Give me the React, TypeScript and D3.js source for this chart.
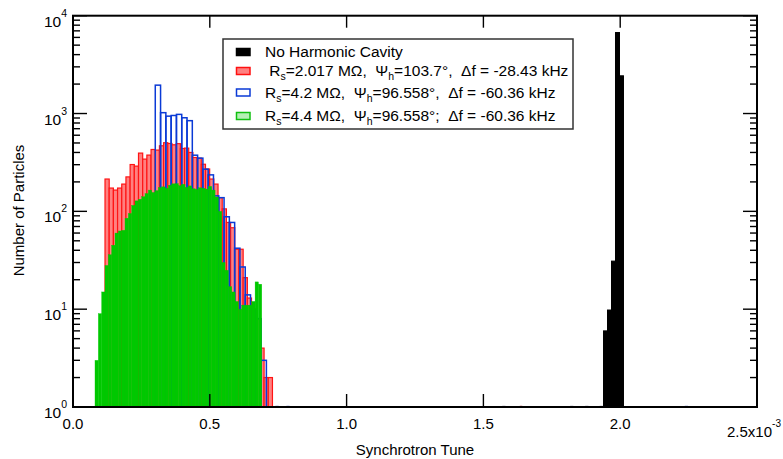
import React from 'react';
import * as d3 from 'd3';

const W = 783;
const H = 459;

// Histogram series (bin start, bin width in units of 1e-3, counts per bin)
const blackStart = 1.939;
const blackWidth = 0.0146;
const blackCounts = [6, 9.8, 31, 6730, 2430];

const redStart = 0.117;
const redWidth = 0.0153;
const redCounts = [
  214, 173, 165, 173, 190, 225, 301, 290, 394, 342,
  376, 429, 423, 468, 503, 494, 479, 492, 439, 443,
  400, 355, 350, 303, 271, 214, 190, 138, 106, 77,
  68, 41, 41, 21, 13, 10, 8, 4, 2, 2,
];

const blueStart = 0.3007;
const blueWidth = 0.01934;
const blueCounts = [
  1950, 1020, 940, 955, 980, 905, 845, 375, 350, 270,
  236, 144, 138, 88, 77, 42, 27, 14, 10, 8, 3,
];

const greenStart = 0.0804;
const greenWidth = 0.01219;
const greenCounts = [
  3, 9, 15, 28, 36, 45, 60, 63, 64, 85,
  95, 115, 128, 133, 141, 152, 165, 156, 163, 175,
  178, 172, 185, 191, 192, 183, 189, 176, 182, 170,
  168, 174, 172, 169, 180, 165, 140, 100, 30, 25,
  17, 15, 12, 10, 11, 11, 11, 12, 19, 18,
];

// single-particle bins (count = 1) far from the main distributions
const blueStrays = [0.74, 0.78, 2.236];
const redStrays = [1.633];
const greyStrays = [1.569, 1.817, 1.872, 1.925];

const xTicks = [0, 0.5, 1.0, 1.5, 2.0, 2.5];
const xTickLabels = ['0.0', '0.5', '1.0', '1.5', '2.0'];
const yDecades = [0, 1, 2, 3, 4];

const legendRows = [
  [{ t: 'No Harmonic Cavity' }],
  [{ t: ' R' }, { sub: 's' }, { t: '=2.017 MΩ,  Ψ' }, { sub: 'h' }, { t: '=103.7°,  Δf = -28.43 kHz' }],
  [{ t: 'R' }, { sub: 's' }, { t: '=4.2 MΩ,  Ψ' }, { sub: 'h' }, { t: '=96.558°,  Δf = -60.36 kHz' }],
  [{ t: 'R' }, { sub: 's' }, { t: '=4.4 MΩ,  Ψ' }, { sub: 'h' }, { t: '=96.558°;  Δf = -60.36 kHz' }],
];

const FONT = '"Liberation Sans", Arial, Helvetica, sans-serif';

export default function App() {
  const x = d3.scaleLinear().domain([0, 2.5]).range([73, 757]);
  const y = d3.scaleLog().domain([1, 1e4]).range([407, 15.7]);
  const [xl, xr] = x.range();
  const [yb, yt] = y.range();

  const bins = (start: number, width: number, counts: number[]) =>
    counts.map((c, i) => {
      const x0 = x(start + i * width);
      const x1 = x(start + (i + 1) * width);
      return { x0, w: x1 - x0, yTop: y(c), h: y(1) - y(c) };
    });

  const black = bins(blackStart, blackWidth, blackCounts);
  const red = bins(redStart, redWidth, redCounts);
  const blue = bins(blueStart, blueWidth, blueCounts);
  const green = bins(greenStart, greenWidth, greenCounts);

  const yTickVals: { v: number; major: boolean }[] = [];
  yDecades.forEach((d) => {
    if (d === 4) {
      yTickVals.push({ v: 1e4, major: true });
      return;
    }
    for (let m = 1; m <= 9; m++) yTickVals.push({ v: m * Math.pow(10, d), major: m === 1 });
  });

  const legendBaselines = [57, 76, 97.5, 121];
  const swatchStyles = [
    { fill: '#000000', stroke: '#000000' },
    { fill: '#ff8080', stroke: '#ff1010' },
    { fill: '#ffffff', stroke: '#0a3ad6' },
    { fill: '#b4f0b4', stroke: '#10c010' },
  ];

  const strayLine = (v: number, w: number, color: string, k: string) => (
    <line key={k} x1={x(v)} x2={x(v + w)} y1={y(1) - 0.8} y2={y(1) - 0.8} stroke={color} strokeWidth={1.2} opacity={0.6} />
  );

  return (
    <svg width={W} height={H} style={{ position: 'absolute', left: 0, top: 0, background: '#fff' }} fontFamily={FONT}>
      <rect x={0} y={0} width={W} height={H} fill="#fff" />

      {/* black: no harmonic cavity */}
      {black.map((b, i) => (
        <rect key={'k' + i} x={b.x0} y={b.yTop} width={b.w} height={b.h} fill="#000" stroke="#000" strokeWidth={1} />
      ))}

      {/* red */}
      {red.map((b, i) => (
        <rect key={'r' + i} x={b.x0} y={b.yTop} width={b.w} height={b.h} fill="#ff8080" stroke="#ff1414" strokeWidth={1.2} />
      ))}

      {/* blue (outline only) */}
      {blue.map((b, i) => (
        <rect key={'b' + i} x={b.x0} y={b.yTop} width={b.w} height={b.h} fill="none" stroke="#0a3ad6" strokeWidth={1.5} />
      ))}

      {/* green */}
      {green.map((b, i) => (
        <rect key={'g' + i} x={b.x0} y={b.yTop} width={b.w} height={b.h} fill="#00c800" stroke="#00c800" strokeWidth={0.35} />
      ))}

      {blueStrays.map((v, i) => strayLine(v, blueWidth * 0.6, '#7080d0', 'bs' + i))}
      {redStrays.map((v, i) => strayLine(v, redWidth * 0.6, '#c04040', 'rs' + i))}
      {greyStrays.map((v, i) => strayLine(v, blackWidth * 0.8, '#9090a8', 'gs' + i))}

      {/* y ticks */}
      {yTickVals.map((t, i) => {
        const len = t.major ? 14 : 7;
        const yy = y(t.v);
        return (
          <g key={'yt' + i} stroke="#000" strokeWidth={1.4}>
            <line x1={xl} x2={xl + len} y1={yy} y2={yy} />
            <line x1={xr} x2={xr - len} y1={yy} y2={yy} />
          </g>
        );
      })}

      {/* x ticks */}
      {xTicks.map((t, i) => (
        <g key={'xt' + i} stroke="#000" strokeWidth={1.4}>
          <line x1={x(t)} x2={x(t)} y1={yb} y2={yb - 13} />
          <line x1={x(t)} x2={x(t)} y1={yt} y2={yt + 12} />
        </g>
      ))}

      {/* frame */}
      <rect x={xl} y={yt} width={xr - xl} height={yb - yt} fill="none" stroke="#000" strokeWidth={2} />

      {/* y tick labels */}
      {yDecades.map((d) => (
        <text key={'yl' + d} x={67} y={y(Math.pow(10, d)) + 11} fontSize={15.5} textAnchor="end" fill="#000">
          10
          <tspan fontSize={10.5} dy={-10}>{String(d)}</tspan>
        </text>
      ))}

      {/* x tick labels */}
      {xTickLabels.map((lab, i) => (
        <text key={'xl' + i} x={x(xTicks[i])} y={429} fontSize={15} textAnchor="middle" fill="#000">
          {lab}
        </text>
      ))}
      <text x={727} y={437} fontSize={15} fill="#000">
        2.5x10
        <tspan fontSize={10} dy={-10}>-3</tspan>
      </text>

      {/* axis titles */}
      <text x={415} y={455} fontSize={15} textAnchor="middle" fill="#000">Synchrotron Tune</text>
      <text transform="rotate(-90)" x={-210.5} y={24} fontSize={15} textAnchor="middle" fill="#000">
        Number of Particles
      </text>

      {/* legend */}
      <rect x={223} y={39} width={350} height={90} fill="#fff" stroke="#333" strokeWidth={1.5} />
      {legendRows.map((row, i) => {
        const base = legendBaselines[i];
        const s = swatchStyles[i];
        return (
          <g key={'lg' + i}>
            <rect x={236.5} y={base - 8.5} width={13.5} height={7} fill={s.fill} stroke={s.stroke} strokeWidth={1.5} />
            <text x={265} y={base} fontSize={15.5} fill="#000" xmlSpace="preserve" style={{ whiteSpace: 'pre' }}>
              {row.map((p: any, j: number) =>
                p.sub !== undefined ? (
                  <tspan key={j} fontSize={10.5} dy={4}>{p.sub}</tspan>
                ) : (
                  <tspan key={j} dy={j === 0 ? 0 : -4}>{p.t}</tspan>
                )
              )}
            </text>
          </g>
        );
      })}
    </svg>
  );
}
